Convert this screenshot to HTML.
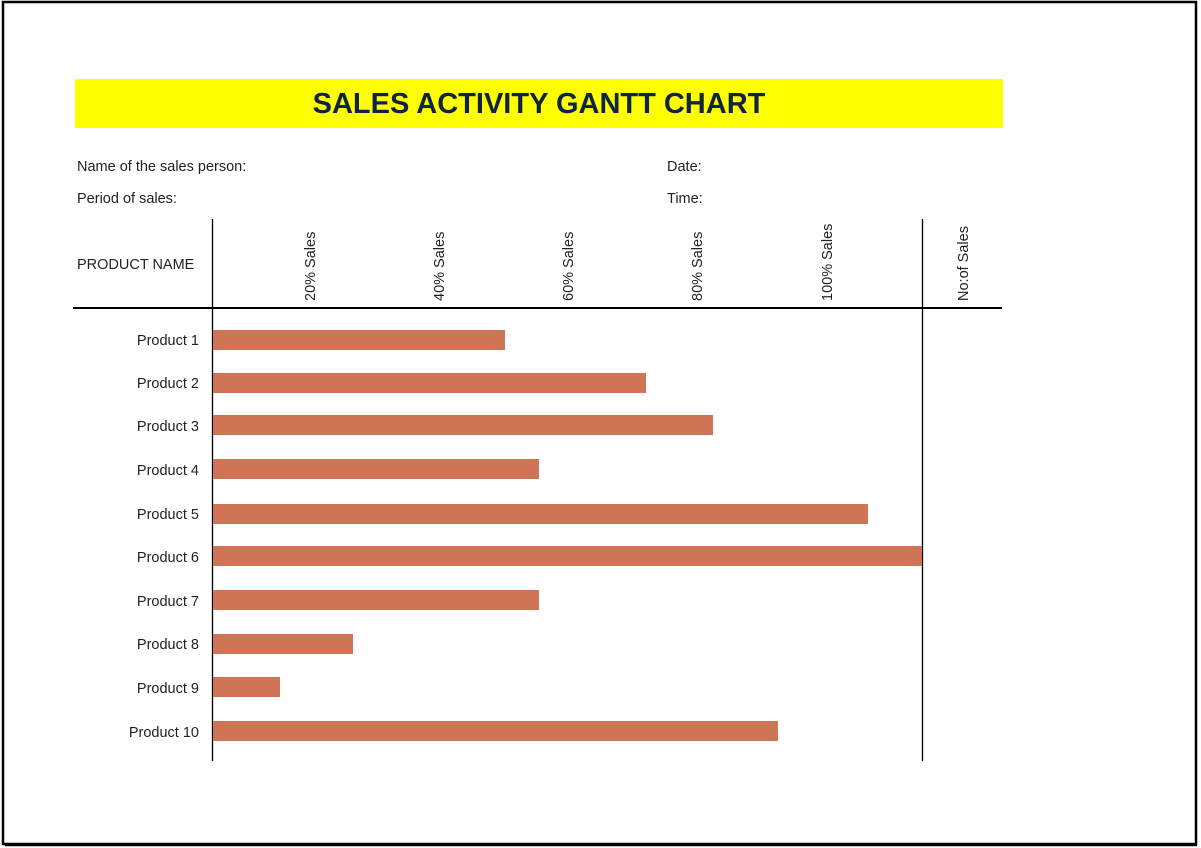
<!DOCTYPE html>
<html><head><meta charset="utf-8"><style>
html,body{margin:0;padding:0;background:#fff;}
svg{display:block;}
text{font-family:"Liberation Sans",sans-serif;fill:#222;}
</style></head><body>
<svg width="1201" height="848" xmlns="http://www.w3.org/2000/svg">
<rect x="3" y="2" width="1193" height="842" fill="#fff" stroke="#000" stroke-width="2.5"/>
<line x1="5" y1="845.5" x2="1197" y2="845.5" stroke="#000" stroke-width="1.5"/>
<rect x="75" y="79" width="928" height="49" fill="#ffff00"/>
<text x="539" y="113" text-anchor="middle" font-size="29" font-weight="bold" style="fill:#0e2447">SALES ACTIVITY GANTT CHART</text>
<text x="77" y="171" font-size="14.5">Name of the sales person:</text>
<text x="77" y="203" font-size="14.5">Period of sales:</text>
<text x="667" y="171" font-size="14.5">Date:</text>
<text x="667" y="203" font-size="14.5">Time:</text>
<text x="77" y="269" font-size="14.5">PRODUCT NAME</text>
<g font-size="14.5">
<text transform="translate(315,301) rotate(-90)">20% Sales</text>
<text transform="translate(444,301) rotate(-90)">40% Sales</text>
<text transform="translate(573,301) rotate(-90)">60% Sales</text>
<text transform="translate(702,301) rotate(-90)">80% Sales</text>
<text transform="translate(832,301) rotate(-90)">100% Sales</text>
<text transform="translate(968,301) rotate(-90)">No:of Sales</text>
</g>
<line x1="212.5" y1="219" x2="212.5" y2="761" stroke="#000" stroke-width="1.3"/>
<line x1="922.5" y1="219" x2="922.5" y2="761" stroke="#000" stroke-width="1.3"/>
<line x1="73" y1="308" x2="1002" y2="308" stroke="#000" stroke-width="2"/>
<g fill="#cf7555">
<rect x="213" y="330" width="292" height="20"/>
<rect x="213" y="373" width="433" height="20"/>
<rect x="213" y="415" width="500" height="20"/>
<rect x="213" y="459" width="326" height="20"/>
<rect x="213" y="504" width="655" height="20"/>
<rect x="213" y="546" width="709" height="20"/>
<rect x="213" y="590" width="326" height="20"/>
<rect x="213" y="634" width="140" height="20"/>
<rect x="213" y="677" width="67" height="20"/>
<rect x="213" y="721" width="565" height="20"/>
</g>
<g font-size="14.5" text-anchor="end">
<text x="199" y="345">Product 1</text>
<text x="199" y="388">Product 2</text>
<text x="199" y="431">Product 3</text>
<text x="199" y="475">Product 4</text>
<text x="199" y="519">Product 5</text>
<text x="199" y="562">Product 6</text>
<text x="199" y="606">Product 7</text>
<text x="199" y="649">Product 8</text>
<text x="199" y="693">Product 9</text>
<text x="199" y="737">Product 10</text>
</g>
</svg>
</body></html>
